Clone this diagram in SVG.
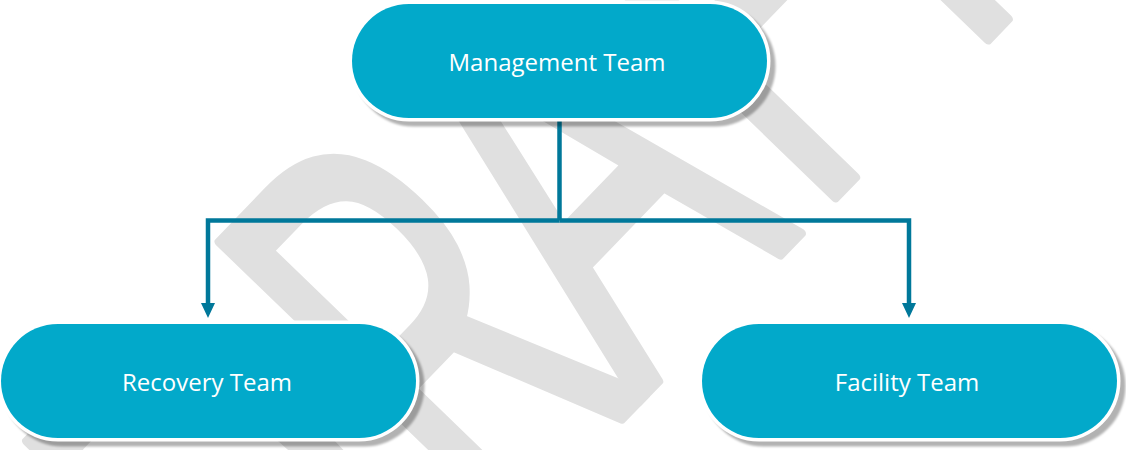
<svg xmlns="http://www.w3.org/2000/svg" width="1126" height="450" viewBox="0 0 1126 450">
  <style>
    .wm { font-family: "Open Sans", "Liberation Sans", sans-serif; font-size: 577px; fill: #e0e0e0; stroke: #e0e0e0; stroke-width: 10; stroke-linejoin: round; text-anchor: middle; }
    .shadow { fill: #000000; fill-opacity: 0.3; }
    .ring { fill: #ffffff; }
    .pill { fill: #02A9CA; }
    .label { font-family: "Open Sans", "Liberation Sans", sans-serif; font-size: 24px; fill: #ffffff; text-anchor: middle; }
    .conn { fill: none; stroke: #00789A; stroke-width: 4.5; stroke-linejoin: miter; stroke-linecap: butt; }
  </style>
  <defs>
    <filter id="soft" x="-5%" y="-10%" width="110%" height="120%">
      <feGaussianBlur stdDeviation="1"/>
    </filter>
    <marker id="arrow" viewBox="0 0 15 14" markerWidth="15" markerHeight="14" refX="1" refY="7" orient="auto" markerUnits="userSpaceOnUse">
      <path d="M0,0 L15,7 L0,14 z" fill="#00789A"/>
    </marker>
  </defs>

  <rect width="1126" height="450" fill="#ffffff"/>

  <g id="watermark">
    <text class="wm" transform="translate(530.6,513) rotate(-46) scale(0.65,1)"><tspan x="-308" y="0">D</tspan><tspan x="87" y="0">R</tspan><tspan x="418.5" y="0">A</tspan><tspan x="765.5" y="0">F</tspan><tspan x="1035" y="0">T</tspan></text>
  </g>

  <g id="connectors">
    <path class="conn" d="M559.5,120 V220.5"/>
    <path class="conn" d="M559.5,220.5 H208 V304" marker-end="url(#arrow)"/>
    <path class="conn" d="M559.5,220.5 H909 V304" marker-end="url(#arrow)"/>
  </g>

  <g id="node-management">
    <rect class="shadow" filter="url(#soft)" x="353.5" y="5.5" width="422" height="121" rx="60.5"/>
    <rect class="ring" x="348.5" y="0.5" width="422" height="121" rx="60.5"/>
    <rect class="pill" x="352" y="4" width="415" height="114" rx="57"/>
    <text class="label" x="557" y="71">Management Team</text>
  </g>

  <g id="node-recovery">
    <rect class="shadow" filter="url(#soft)" x="2.5" y="325.5" width="422" height="121" rx="60.5"/>
    <rect class="ring" x="-2.5" y="320.5" width="422" height="121" rx="60.5"/>
    <rect class="pill" x="1" y="324" width="415" height="114" rx="57"/>
    <text class="label" x="207" y="391">Recovery Team</text>
  </g>

  <g id="node-facility">
    <rect class="shadow" filter="url(#soft)" x="703.5" y="325.5" width="422" height="121" rx="60.5"/>
    <rect class="ring" x="698.5" y="320.5" width="422" height="121" rx="60.5"/>
    <rect class="pill" x="702" y="324" width="415" height="114" rx="57"/>
    <text class="label" x="907" y="391">Facility Team</text>
  </g>
</svg>
